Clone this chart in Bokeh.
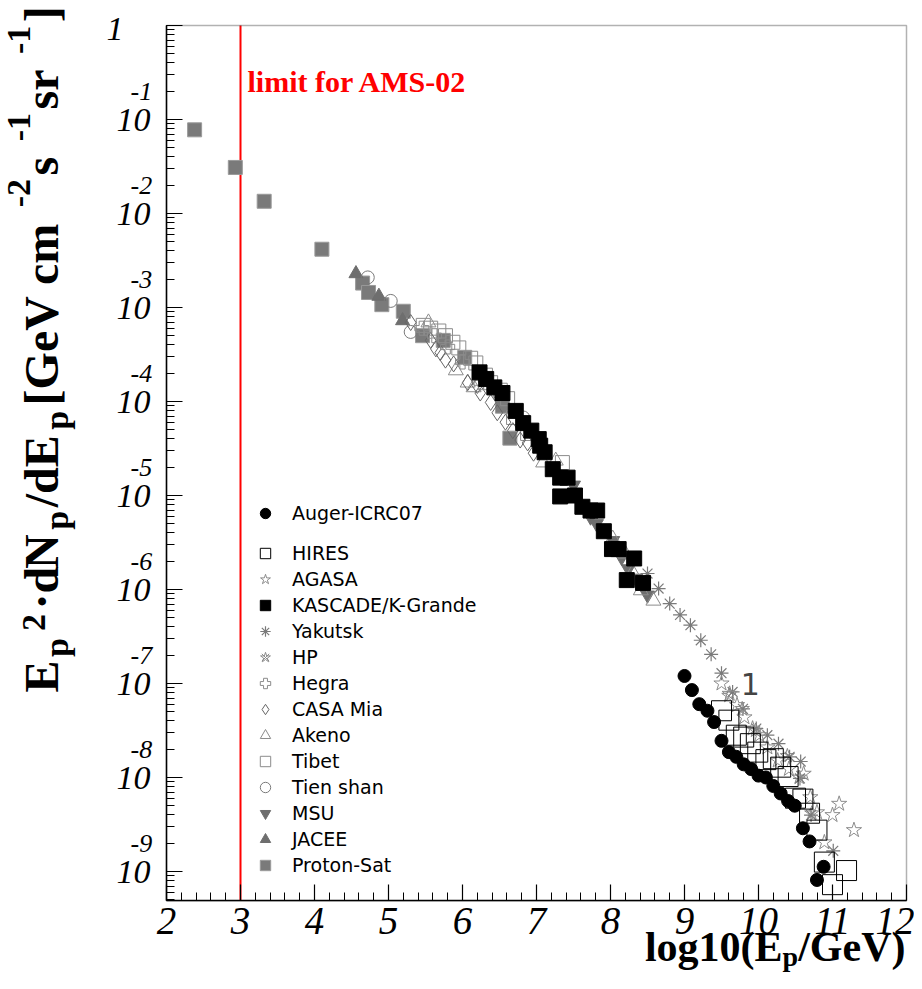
import math
from bokeh.plotting import figure
from bokeh.models import (Range1d, LogTicker, SingleIntervalTicker, Label, BoxAnnotation,
                          Legend, LegendItem, CustomJSTickFormatter)
from bokeh.embed import file_html
from bokeh.resources import INLINE

# ---------------- data: log10(E/GeV) and log10(E^2 dN/dE) ----------------
auger_lx = [9.00, 9.10, 9.20, 9.31, 9.40, 9.50, 9.60, 9.70, 9.80, 9.90, 10.00, 10.10,
            10.20, 10.30, 10.40, 10.49, 10.60, 10.69, 10.79, 10.88]
auger_ly = [-6.92, -7.07, -7.22, -7.29, -7.41, -7.61, -7.73, -7.78, -7.86, -7.91, -7.98, -8.00,
            -8.09, -8.17, -8.25, -8.30, -8.54, -8.68, -9.09, -8.95]

hires_lx = [9.50, 9.60, 9.70, 9.80, 9.89, 9.99, 10.10, 10.20, 10.30, 10.40, 10.50, 10.60,
            10.69, 10.79, 10.89, 11.00, 11.19]
hires_ly = [-7.29, -7.39, -7.55, -7.57, -7.64, -7.73, -7.81, -7.80, -7.89, -7.99, -8.22, -8.23,
            -8.38, -8.56, -8.90, -9.14, -8.99]

agasa_lx = [9.50, 9.61, 9.71, 9.81, 9.92, 10.01, 10.12, 10.26, 10.41, 10.61, 10.70, 10.79,
            10.89, 11.00, 11.09, 11.29]
agasa_ly = [-7.00, -7.11, -7.23, -7.36, -7.48, -7.55, -7.68, -7.82, -7.91, -7.96, -8.21, -8.37,
            -8.69, -8.40, -8.28, -8.56]

kascade_lx = [6.23, 6.32, 6.43, 6.54, 6.72, 6.82, 6.93, 7.03, 7.05, 7.11, 7.22, 7.32, 7.42,
              7.32, 7.52, 7.62, 7.73, 7.82, 7.91, 8.02, 8.11, 8.32, 8.22, 8.44]
kascade_ly = [-3.69, -3.76, -3.85, -3.91, -4.10, -4.23, -4.31, -4.40, -4.47, -4.54, -4.72, -4.81,
              -4.81, -5.01, -5.00, -5.12, -5.16, -5.16, -5.38, -5.57, -5.57, -5.67, -5.90, -5.93]

yakutsk_lx = [8.50, 8.65, 8.80, 8.94, 9.08, 9.22, 9.36, 9.50, 9.65, 9.79, 9.97, 10.12, 10.27,
              10.42, 10.57, 10.56, 10.71, 11.01]
yakutsk_ly = [-5.83, -5.99, -6.15, -6.27, -6.38, -6.54, -6.69, -6.89, -7.09, -7.27, -7.48, -7.55,
              -7.64, -7.78, -7.83, -8.01, -8.40, -8.78]

hp_lx = [9.60, 9.78, 9.96, 10.39, 10.55, 10.72]
hp_ly = [-7.13, -7.27, -7.50, -7.77, -8.00, -8.38]

hegra_lx = [5.45, 5.62, 5.80, 6.00, 6.25]
hegra_ly = [-3.22, -3.30, -3.42, -3.58, -3.80]

casa_lx = [5.30, 5.57, 5.64, 5.70, 5.77, 5.88, 6.07, 6.20, 6.24, 6.38, 6.47, 6.58, 6.68, 6.78,
           6.88, 6.96]
casa_ly = [-3.16, -3.35, -3.44, -3.48, -3.56, -3.60, -3.80, -3.83, -3.91, -4.01, -4.12, -4.22,
           -4.31, -4.41, -4.44, -4.55]

akeno_lx = [5.54, 5.91, 6.07, 6.15, 7.09, 7.26, 8.03, 8.20, 8.30, 8.41, 8.58]
akeno_ly = [-3.16, -3.67, -3.80, -3.85, -4.65, -4.63, -5.46, -5.62, -5.82, -6.01, -6.12]

tibet_lx = [5.47, 5.57, 5.68, 5.77, 5.87, 5.95, 6.11, 6.18, 6.31, 6.38, 6.51, 6.61, 6.69, 6.88,
            7.35]
tibet_ly = [-3.19, -3.22, -3.25, -3.30, -3.37, -3.43, -3.54, -3.59, -3.72, -3.80, -3.88, -3.97,
            -4.17, -4.34, -4.65]

tienshan_lx = [4.72, 5.03, 5.30, 6.82]
tienshan_ly = [-2.68, -2.93, -3.26, -4.17]

msu_lx = [7.50, 7.73, 7.81, 8.03, 8.15, 8.24, 8.34, 8.50]
msu_ly = [-4.89, -5.23, -5.30, -5.48, -5.66, -5.78, -5.88, -6.06]

jacee_lx = [4.56, 4.87, 5.19]
jacee_ly = [-2.64, -2.88, -3.14]

protonsat_lx = [2.38, 2.93, 3.32, 4.10, 4.65, 4.73, 4.91, 5.20, 5.46, 5.74, 6.03, 6.54, 6.64]
protonsat_ly = [-1.11, -1.51, -1.87, -2.38, -2.74, -2.84, -2.97, -3.04, -3.30, -3.35, -3.53,
                -4.05, -4.39]

x_min, x_max = 2, 12
y_min_exp, y_max_exp = -9.31, 0.0
y_exponents = list(range(-1, -10, -1))
ams_limit = 3.0

def lin(v):
    return [10.0 ** a for a in v]

# ---------------- geometry (pixels of the picture) ----------------
W, H = 914, 973
FL, FT = 166, 25            # pixel position of plot box left / top
XPX = 74.0                  # px per unit in x
YPX = 94.0                  # px per decade
MID = 0.34                  # baseline -> "middle" offset, in em

def px2x(px):
    return x_min + (px - FL) / XPX

def py2y(py):
    return 10 ** (y_max_exp - (py - FT) / YPX)

Y_MIN = 10 ** y_min_exp
Y_MAX = 10 ** y_max_exp

p = figure(width=W, height=H, x_range=Range1d(px2x(0), px2x(W)),
           y_range=Range1d(py2y(H), py2y(0)), y_axis_type="log",
           output_backend="svg", toolbar_location=None,
           min_border=0, min_border_left=0, min_border_right=0,
           min_border_top=0, min_border_bottom=0)
p.grid.visible = False
p.outline_line_color = None
p.background_fill_color = "white"
p.border_fill_color = "white"

xa = p.xaxis[0]
xa.fixed_location = Y_MIN
xa.bounds = (x_min, x_max)
xa.ticker = SingleIntervalTicker(interval=1, num_minor_ticks=5)
xa.major_label_text_font = "Liberation Serif"
xa.major_label_text_font_style = "italic"
xa.major_label_text_font_size = "39px"
xa.major_label_text_color = "black"
xa.major_label_standoff = 7

ya = p.yaxis[0]
ya.fixed_location = x_min
ya.bounds = (Y_MIN, Y_MAX)
ya.ticker = LogTicker(num_minor_ticks=10)
ya.formatter = CustomJSTickFormatter(code="return tick > 0.5 ? '' : '10'")
ya.major_label_text_font = "Liberation Serif"
ya.major_label_text_font_style = "italic"
ya.major_label_text_font_size = "34px"
ya.major_label_text_color = "black"
ya.major_label_standoff = 16

for ax in (xa, ya):
    ax.major_tick_in = 16
    ax.major_tick_out = 0
    ax.minor_tick_in = 8
    ax.minor_tick_out = 0
    ax.axis_line_width = 1.5
    ax.major_tick_line_width = 1.2
    ax.minor_tick_line_width = 1.0
    ax.axis_line_color = "black"
    ax.major_tick_line_color = "black"
    ax.minor_tick_line_color = "black"

# plot box
p.add_layout(BoxAnnotation(left=x_min, right=x_max, bottom=Y_MIN, top=Y_MAX,
                           fill_color=None, line_color="black", line_width=1.5))

GRAY = "#7a7a7a"
LGRAY = "#8c8c8c"

# AMS-02 limit line
p.segment(x0=[ams_limit], y0=[Y_MIN], x1=[ams_limit], y1=[Y_MAX], line_color="red",
          line_width=2)

r_proton = p.scatter(protonsat_lx, lin(protonsat_ly), marker="square", size=14,
                     fill_color=GRAY, line_color="#9a9a9a", line_width=1)
r_jacee = p.scatter(jacee_lx, lin(jacee_ly), marker="triangle", size=14,
                    fill_color="#6e6e6e", line_color="#6e6e6e")
r_msu = p.scatter(msu_lx, lin(msu_ly), marker="inverted_triangle", size=14,
                  fill_color="#6e6e6e", line_color="#6e6e6e")
r_tien = p.scatter(tienshan_lx, lin(tienshan_ly), marker="circle", size=13,
                   fill_color=None, line_color=GRAY, line_width=1)
r_tibet = p.scatter(tibet_lx, lin(tibet_ly), marker="square", size=14,
                    fill_color=None, line_color=LGRAY, line_width=1)
r_akeno = p.scatter(akeno_lx, lin(akeno_ly), marker="triangle", size=15,
                    fill_color=None, line_color=LGRAY, line_width=1)
r_casa = p.scatter(casa_lx, lin(casa_ly), marker="diamond", size=16,
                   fill_color=None, line_color="#666666", line_width=1)
r_hegra = p.scatter(hegra_lx, lin(hegra_ly), marker="plus", size=14,
                    fill_color=None, line_color=LGRAY, line_width=1)
r_hp1 = p.scatter(hp_lx, lin(hp_ly), marker="star", size=15,
                  fill_color=None, line_color=LGRAY, line_width=1)
r_hp2 = p.scatter(hp_lx, lin(hp_ly), marker="x", size=8,
                  line_color=LGRAY, line_width=1)
r_yak = p.scatter(yakutsk_lx, lin(yakutsk_ly), marker="asterisk", size=14,
                  line_color=GRAY, line_width=1.2)
r_kas = p.scatter(kascade_lx, lin(kascade_ly), marker="square", size=15,
                  fill_color="black", line_color="black")
r_agasa = p.scatter(agasa_lx, lin(agasa_ly), marker="star", size=16,
                    fill_color=None, line_color=LGRAY, line_width=1)
r_hires = p.scatter(hires_lx, lin(hires_ly), marker="square", size=20,
                    fill_color=None, line_color="black", line_width=1)
r_auger = p.scatter(auger_lx, lin(auger_ly), marker="circle", size=13,
                    fill_color="black", line_color="black")

# ---------------- legends ----------------
def make_legend(items, loc):
    lg = Legend(items=items, location=loc, orientation="vertical")
    lg.border_line_color = None
    lg.background_fill_alpha = 0
    lg.padding = 0
    lg.margin = 0
    lg.spacing = 0
    lg.glyph_height = 26
    lg.glyph_width = 26
    lg.label_height = 26
    lg.label_standoff = 14
    lg.label_text_font = "DejaVu Sans"
    lg.label_text_font_size = "19px"
    lg.label_text_color = "black"
    return lg

leg1 = make_legend([LegendItem(label="Auger-ICRC07", renderers=[r_auger])], (252, H - 526))
leg2 = make_legend([
    LegendItem(label="HIRES", renderers=[r_hires]),
    LegendItem(label="AGASA", renderers=[r_agasa]),
    LegendItem(label="KASCADE/K-Grande", renderers=[r_kas]),
    LegendItem(label="Yakutsk", renderers=[r_yak]),
    LegendItem(label="HP", renderers=[r_hp1, r_hp2]),
    LegendItem(label="Hegra", renderers=[r_hegra]),
    LegendItem(label="CASA Mia", renderers=[r_casa]),
    LegendItem(label="Akeno", renderers=[r_akeno]),
    LegendItem(label="Tibet", renderers=[r_tibet]),
    LegendItem(label="Tien shan", renderers=[r_tien]),
    LegendItem(label="MSU", renderers=[r_msu]),
    LegendItem(label="JACEE", renderers=[r_jacee]),
    LegendItem(label="Proton-Sat", renderers=[r_proton]),
], (252, H - 878))
p.add_layout(leg1)
p.add_layout(leg2)

# ---------------- texts ----------------
def txt(px, py_base, text, size, font="Liberation Serif", style="normal", color="black",
        align="left", angle=0.0):
    """place a text whose baseline is at the given picture pixel position"""
    if angle == 0.0:
        x, y = px2x(px), py2y(py_base - MID * size)
    else:  # rotated 90 degrees: baseline is vertical at x = px
        x, y = px2x(px - MID * size), py2y(py_base)
    p.add_layout(Label(x=x, y=y, text=text, text_font=font, text_font_style=style,
                       text_font_size=f"{size}px", text_color=color, text_align=align,
                       text_baseline="middle", angle=angle))

txt(247, 91, "limit for AMS-02", 30, style="bold", color="red")
p.add_layout(Label(x=9.89, y=10 ** -7.0, text="1", text_color="#444444",
                   text_font="DejaVu Sans", text_font_size="30px",
                   text_baseline="middle", text_align="center"))

# y tick label "1" and exponents of the "10" labels
p.add_layout(Label(x=px2x(123), y=Y_MAX, y_offset=-3, text="1", text_font="Liberation Serif",
                   text_font_style="italic", text_font_size="34px", text_align="right",
                   text_baseline="middle", text_color="black"))
for k in y_exponents:
    p.add_layout(Label(x=px2x(130), y=10.0 ** k, y_offset=28, text=str(k),
                       text_font="Liberation Serif", text_font_style="italic",
                       text_font_size="26px", text_align="left", text_baseline="middle",
                       text_color="black"))

# bold Times advance widths (per em)
ADV = {" ": .25, "[": .333, "]": .333, "(": .333, ")": .333, "/": .278, "-": .333, "\u00b7": .25,
       "E": .667, "G": .778, "N": .722, "V": .722, "c": .444, "d": .556, "e": .444, "g": .5,
       "l": .278, "m": .833, "o": .5, "p": .556, "r": .444, "s": .389}
for dch in "0123456789":
    ADV[dch] = .5

def tw(s, size):
    return sum(ADV.get(c, .5) for c in s) * size

# y-axis title (rotated, reading upwards); (text, size, baseline x, gap before/after)
FM, FS = 48, 34
GAP = 3.5
ytitle = [("E", FM, 57, 0), ("p", FS, 68, GAP), ("2", FS, 45, GAP), ("\u00b7d", FM, 57, 1),
          ("N", FM, 57, 1), ("p", FS, 68, GAP), ("/dE", FM, 57, 0), ("p", FS, 68, GAP + 2),
          (" [GeV cm", FM, 57, 0), ("-2", FS, 30, GAP), (" s", FM, 57, 0), ("-1", FS, 30, GAP),
          (" sr", FM, 57, 0), ("-1", FS, 30, GAP), ("]", FM, 57, 0)]
cur = 692.0
for t, s, bx, g in ytitle:
    cur -= g
    txt(bx, cur, t, s, style="bold", angle=math.pi / 2)
    cur -= tw(t, s) + g

# x-axis title
XF, XS = 42, 28
xtitle = [("log10(E", XF, 961), ("p", XS, 966), ("/GeV)", XF, 961)]
xtot = sum(tw(t, s) for t, s, _ in xtitle)
cx = 905 - xtot
for t, s, by in xtitle:
    txt(cx, by, t, s, style="bold")
    cx += tw(t, s)

open("out.html", "w").write(file_html(p, INLINE))
